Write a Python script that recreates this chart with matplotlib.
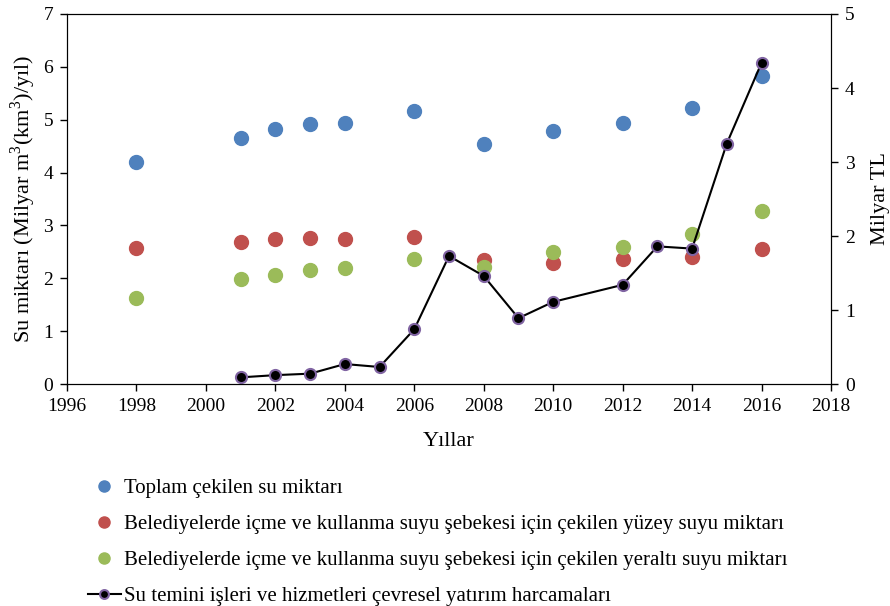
import numpy as np
import matplotlib.pyplot as plt

plt.rcParams['font.family'] = ['Liberation Serif', 'DejaVu Serif']
plt.rcParams['mathtext.fontset'] = 'custom'
plt.rcParams['mathtext.rm'] = 'Liberation Serif'

# su miktarları (milyar m3/yıl)
su_yillar = [1998, 2001, 2002, 2003, 2004, 2006, 2008, 2010, 2012, 2014, 2016]
toplam = [4.20, 4.65, 4.82, 4.92, 4.94, 5.17, 4.55, 4.78, 4.94, 5.23, 5.83]
yuzey = [2.58, 2.68, 2.74, 2.76, 2.74, 2.78, 2.34, 2.29, 2.36, 2.41, 2.56]
yeralti = [1.63, 1.98, 2.06, 2.16, 2.20, 2.37, 2.22, 2.50, 2.60, 2.83, 3.28]

# çevresel yatırım harcamaları (milyar TL)
harcama_yillar = [2001, 2002, 2003, 2004, 2005, 2006, 2007, 2008, 2009, 2010, 2012, 2013, 2014, 2015, 2016]
harcama = [0.09, 0.12, 0.14, 0.27, 0.23, 0.74, 1.73, 1.46, 0.89, 1.11, 1.34, 1.86, 1.83, 3.25, 4.34]

fig = plt.figure(figsize=(8.9, 6.06), dpi=100)
ax = fig.add_axes([0.0753, 0.3663, 0.8584, 0.6106])
ax2 = ax.twinx()

ms = 10
p1, = ax.plot(su_yillar, toplam, 'o', color="#4F81BD", ms=ms, label="Toplam çekilen su miktarı")
p2, = ax.plot(su_yillar, yuzey, 'o', color="#C0504D", ms=ms,
              label="Belediyelerde içme ve kullanma suyu şebekesi için çekilen yüzey suyu miktarı")
p3, = ax.plot(su_yillar, yeralti, 'o', color="#9BBB59", ms=ms,
              label="Belediyelerde içme ve kullanma suyu şebekesi için çekilen yeraltı suyu miktarı")
p4, = ax2.plot(harcama_yillar, harcama, '-o', color="black", lw=1.5, ms=8,
               mfc="black", mec="#8064A2", mew=1.5,
               label="Su temini işleri ve hizmetleri çevresel yatırım harcamaları")

ax.set_xlim(1996, 2018)
ax.set_ylim(0, 7)
ax2.set_ylim(0, 5)
ax.set_xticks(np.arange(1996, 2019, 2))
ax.set_yticks(np.arange(0, 8, 1))
ax2.set_yticks(np.arange(0, 6, 1))

for a in (ax, ax2):
    a.tick_params(labelsize=14, direction='out', length=5, width=1, pad=5)
ax.set_xlabel("Yıllar", fontsize=16, labelpad=12)
ax.set_ylabel("Su miktarı (Milyar m$^{3}$(km$^{3}$)/yıl)", fontsize=16, labelpad=4)
ax2.set_ylabel("Milyar TL", fontsize=16, labelpad=12)

fig.legend(handles=[p1, p2, p3, p4], loc='upper left', bbox_to_anchor=(0.089, 0.224),
           frameon=False, fontsize=15, labelspacing=0.79, handlelength=1.6,
           handletextpad=0.15, borderaxespad=0, markerscale=0.8)

fig.savefig("out.png", dpi=100)
